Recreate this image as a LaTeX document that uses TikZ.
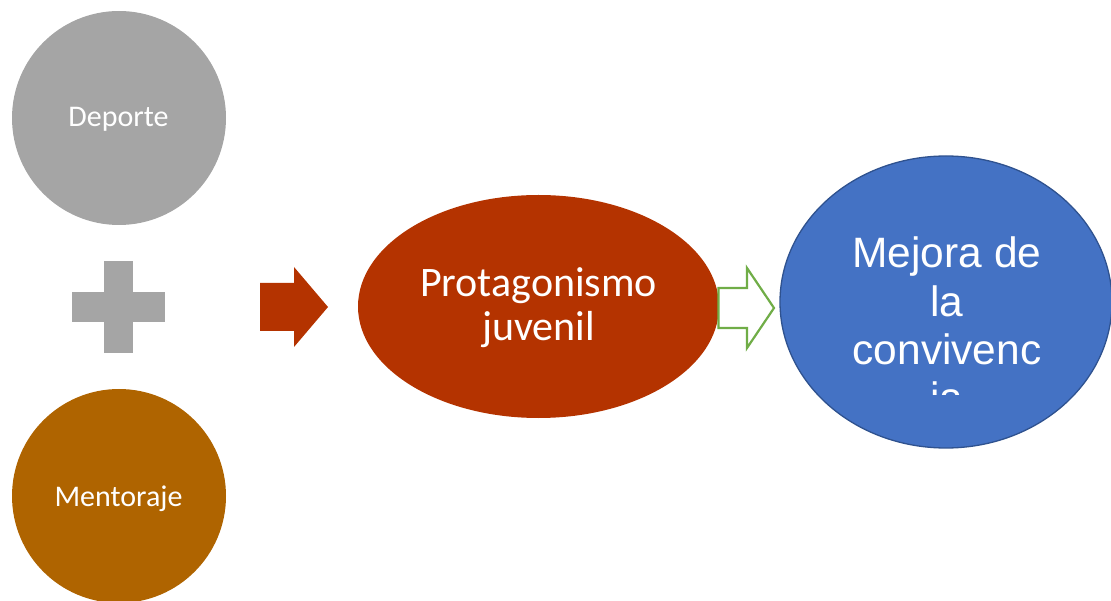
\documentclass[tikz,border=0pt]{standalone}
\usepackage{fontspec}
\setmainfont{Carlito}
\newfontfamily\arialf{Liberation Sans}
\usetikzlibrary{shapes.geometric}
\definecolor{cgray}{HTML}{A5A5A5}
\definecolor{cbrown}{HTML}{AF6400}
\definecolor{cred}{HTML}{B43300}
\definecolor{cgreen}{HTML}{70AD47}
\definecolor{cblue}{HTML}{4472C4}
\definecolor{cblueedge}{HTML}{2F528F}
\tikzset{
  x=1pt, y=-1pt,
  bubble/.style={circle, minimum size=214pt, inner sep=0pt},
  smalltxt/.style={text=white, font=\fontsize{30}{36}\selectfont, anchor=base},
  midtxt/.style={text=white, font=\fontsize{42}{44}\selectfont, anchor=base},
  bigtxt/.style={text=white, font=\arialf\fontsize{42.5}{48}\selectfont, anchor=base},
}
\begin{document}
\begin{tikzpicture}
\useasboundingbox (0,0) rectangle (1111,601);
\clip (0,0) rectangle (1111,601);
% left circles
\node[bubble, fill=cgray] (dep) at (119,118) {};
\node[smalltxt] (deptxt) at (118.5,127) {Deporte};
\node[bubble, fill=cbrown] (men) at (119,496) {};
\node[smalltxt] (mentxt) at (118.5,506) {Mentoraje};
% plus sign
\fill[cgray] (72,292) rectangle (165,322);
\fill[cgray] (104,261) rectangle (133,353);
% red block arrow
\fill[cred] (260,283) -- (294,283) -- (294,267) -- (328,307) -- (294,347) -- (294,331) -- (260,331) -- cycle;
% middle ellipse
\node[ellipse, fill=cred, minimum width=361pt, minimum height=223pt, inner sep=0pt] (prot) at (538.5,306.5) {};
\node[midtxt] (prot1) at (538.5,297) {Protagonismo};
\node[midtxt] (prot2) at (538.5,341) {juvenil};
% green outline block arrow
\draw[cgreen, line width=2.2pt, fill=white, line join=miter] (718.5,288) -- (747,288) -- (747,268) -- (774,308) -- (747,348) -- (747,328) -- (718.5,328) -- cycle;
% right ellipse
\node[ellipse, fill=cblue, draw=cblueedge, line width=1.3pt, minimum width=332pt, minimum height=292pt, inner sep=0pt] (mej) at (946,302) {};
\begin{scope}
\clip (800,200) rectangle (1095,395);
\node[bigtxt] (mej1) at (947,268) {Mejora de};
\node[bigtxt] (mej2) at (947,317) {la};
\node[bigtxt] (mej3) at (947,365) {convivenc};
\node[bigtxt] (mej4) at (947,413) {ia};
\end{scope}
\end{tikzpicture}
\end{document}
